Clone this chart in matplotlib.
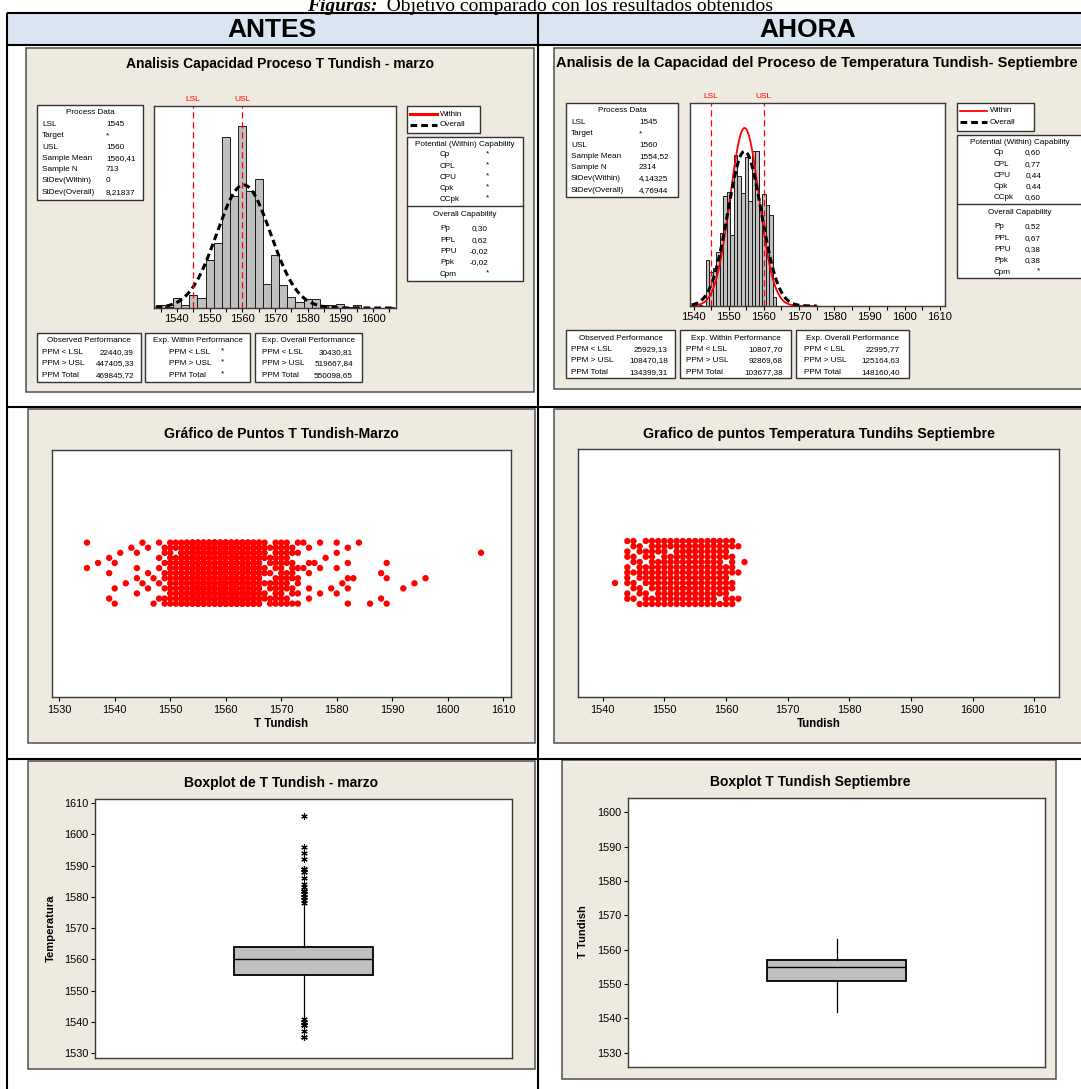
import numpy as np
import matplotlib
matplotlib.use("Agg")
import matplotlib.pyplot as plt
from matplotlib.patches import Rectangle
from matplotlib.ticker import MultipleLocator

plt.rcParams['font.family'] = ['Liberation Sans', 'DejaVu Sans']

# ---------------- data ----------------
LSL, USL = 1545, 1560

# March: temperatures (integer values) and how many heats had each one
marzo_temps = [1535, 1537, 1539, 1540, 1541, 1542, 1543, 1544, 1545, 1546, 1547, 1548,
               1549, 1550, 1551, 1552, 1553, 1554, 1555, 1556, 1557, 1558, 1559, 1560,
               1561, 1562, 1563, 1564, 1565, 1566, 1567, 1568, 1569, 1570, 1571, 1572,
               1573, 1574, 1575, 1576, 1577, 1578, 1579, 1580, 1581, 1582, 1583, 1584,
               1586, 1588, 1589, 1592, 1594, 1596, 1606]
marzo_counts = [2, 1, 3, 3, 1, 1, 1, 4, 2, 3, 2, 5,
                8, 14, 12, 22, 24, 35, 45, 40, 38, 41, 40, 48,
                40, 40, 42, 32, 33, 26, 9, 8, 12, 14, 11, 9,
                7, 2, 5, 1, 3, 1, 1, 4, 1, 5, 1, 1,
                1, 2, 3, 1, 1, 1, 1]

# September: histogram counts per integer temperature
sep_temps = [1542, 1543, 1544, 1545, 1546, 1547, 1548, 1549, 1550, 1551, 1552,
             1553, 1554, 1555, 1556, 1557, 1558, 1559, 1560, 1561, 1562, 1563]
sep_counts = [1, 0, 57, 43, 47, 68, 91, 138, 143, 89, 189,
              163, 141, 187, 132, 194, 194, 122, 140, 127, 114, 11]
# September dot plot: points visible per temperature
sep_dot_counts = [1, 0, 9, 8, 9, 10, 12, 12, 14, 12, 14,
                  14, 14, 14, 14, 14, 14, 12, 12, 10, 3, 1]
# September boxplot statistics
sep_q1, sep_med, sep_q3 = 1551, 1555, 1557
sep_whislo, sep_whishi = 1542, 1563

# summary statistics shown in the capability reports
marzo_n, marzo_mean, marzo_sd_overall = 713, 1560.41, 8.21837
sep_n, sep_mean, sep_sd_within, sep_sd_overall = 2314, 1554.52, 4.14325, 4.76944

marzo_process = [("LSL", "1545"), ("Target", "*"), ("USL", "1560"), ("Sample Mean", "1560,41"),
                 ("Sample N", "713"), ("StDev(Within)", "0"), ("StDev(Overall)", "8,21837")]
sep_process = [("LSL", "1545"), ("Target", "*"), ("USL", "1560"), ("Sample Mean", "1554,52"),
               ("Sample N", "2314"), ("StDev(Within)", "4,14325"), ("StDev(Overall)", "4,76944")]
marzo_within_cap = [("Cp", "*"), ("CPL", "*"), ("CPU", "*"), ("Cpk", "*"), ("CCpk", "*")]
marzo_overall_cap = [("Pp", "0,30"), ("PPL", "0,62"), ("PPU", "-0,02"), ("Ppk", "-0,02"), ("Cpm", "*")]
sep_within_cap = [("Cp", "0,60"), ("CPL", "0,77"), ("CPU", "0,44"), ("Cpk", "0,44"), ("CCpk", "0,60")]
sep_overall_cap = [("Pp", "0,52"), ("PPL", "0,67"), ("PPU", "0,38"), ("Ppk", "0,38"), ("Cpm", "*")]
ppm_labels = ["PPM < LSL", "PPM > USL", "PPM Total"]
marzo_obs = ["22440,39", "447405,33", "469845,72"]
marzo_expw = ["*", "*", "*"]
marzo_expo = ["30430,81", "519667,84", "550098,65"]
sep_obs = ["25929,13", "108470,18", "134399,31"]
sep_expw = ["10807,70", "92869,68", "103677,38"]
sep_expo = ["22995,77", "125164,63", "148160,40"]

# ---------------- figure ----------------
W, H = 1081, 1089
fig = plt.figure(figsize=(W / 100, H / 100), dpi=100)
bg = fig.add_axes([0, 0, 1, 1])
bg.set_xlim(0, W)
bg.set_ylim(H, 0)
bg.axis('off')


def px_axes(x0, y0, x1, y1):
    return fig.add_axes([x0 / W, 1 - y1 / H, (x1 - x0) / W, (y1 - y0) / H])


PANEL = '#EEEAE0'
FS = 5.9
FRAME = '#3a3a3a'

# table
bg.add_patch(Rectangle((7, 13), W - 7, 32, facecolor='#DBE5F1', edgecolor='none'))
for (x0, y0, x1, y1) in [(7, 13, W, 13), (7, 45, W, 45), (7, 407, W, 407), (7, 759, W, 759),
                         (7, 13, 7, H), (538, 13, 538, H)]:
    bg.plot([x0, x1], [y0, y1], color='black', lw=1.5, solid_capstyle='butt')
bg.text(272, 30, "ANTES", fontsize=19, fontweight='bold', ha='center', va='center')
bg.text(808, 30, "AHORA", fontsize=19, fontweight='bold', ha='center', va='center')

# caption (its top is cut by the page edge, as in the source)
t1 = bg.text(0, 11, "Figuras:", fontsize=14, fontweight='bold', fontstyle='italic',
             family=['Liberation Serif'], ha='left', va='baseline')
t2 = bg.text(0, 11, "  Objetivo comparado con los resultados obtenidos", fontsize=14,
             family=['Liberation Serif'], ha='left', va='baseline')
fig.canvas.draw()
w1 = t1.get_window_extent().width
w2 = t2.get_window_extent().width
start = 540 - (w1 + w2) / 2
t1.set_x(start)
t2.set_x(start + w1)

# panels
for (x0, y0, x1, y1) in [(26, 48, 534, 392), (554, 48, 1095, 389), (28, 409, 535, 743),
                         (554, 409, 1095, 743), (28, 761, 535, 1069), (562, 760, 1056, 1079)]:
    bg.add_patch(Rectangle((x0, y0), x1 - x0, y1 - y0, facecolor=PANEL, edgecolor='#505050', lw=1.1))


def box(x0, y0, x1, y1):
    bg.add_patch(Rectangle((x0, y0), x1 - x0, y1 - y0, facecolor='white', edgecolor='#333333', lw=1.0))


def txt(x, y, s, ha='left', fs=FS, **kw):
    bg.text(x, y, s, fontsize=fs, ha=ha, va='center', **kw)


def capability_report(o, process, within_cap, overall_cap, obs, expw, expo, title, title_x, title_ha, title_fs):
    txt(title_x, o['title_y'], title, ha=title_ha, fs=title_fs, fontweight='bold')
    # process data
    x0, y0, x1, y1 = o['pd']
    box(x0, y0, x1, y1)
    txt((x0 + x1) / 2, y0 + 8, "Process Data", ha='center')
    for i, (lab, val) in enumerate(process):
        yy = y0 + 19.5 + i * 11.3
        txt(x0 + 5, yy, lab)
        txt(o['pd_val'], yy, val)
    # legend
    x0, y0, x1, y1 = o['leg']
    box(x0, y0, x1, y1)
    bg.plot([x0 + 3, x0 + 30], [y0 + 8, y0 + 8], color='red', lw=o['within_lw'])
    bg.plot([x0 + 3, x0 + 30], [y0 + 19, y0 + 19], color='black', lw=2.2, ls=(0, (2.2, 1.3)))
    txt(x0 + 33, y0 + 8, "Within")
    txt(x0 + 33, y0 + 19, "Overall")
    # capability
    x0, y0, x1, y1 = o['cap']
    box(x0, y0, x1, y1)
    bg.plot([x0, x1], [o['cap_div'], o['cap_div']], color='#333333', lw=1.0)
    txt(o['cap_head_x'], y0 + 7.5, "Potential (Within) Capability", ha='center')
    for i, (lab, val) in enumerate(within_cap):
        yy = y0 + 18 + i * 11.2
        txt(o['cap_lab'], yy, lab)
        if val == '*':
            txt(o['cap_star'], yy - 1.5, val, ha='center')
        else:
            txt(o['cap_val'], yy, val, ha='right')
    txt(o['cap_head_x'], o['cap_div'] + 9, "Overall Capability", ha='center')
    for i, (lab, val) in enumerate(overall_cap):
        yy = o['cap_div'] + 23 + i * 11.3
        txt(o['cap_lab'], yy, lab)
        if val == '*':
            txt(o['cap_star'], yy - 1.5, val, ha='center')
        else:
            txt(o['cap_val'], yy, val, ha='right')
    # performance boxes
    heads = ["Observed Performance", "Exp. Within Performance", "Exp. Overall Performance"]
    for (x0, x1, lab_x, val_x), head, vals in zip(o['perf'], heads, [obs, expw, expo]):
        y0, y1 = o['perf_y']
        box(x0, y0, x1, y1)
        txt((x0 + x1) / 2, y0 + 8, head, ha='center')
        for i, (lab, val) in enumerate(zip(ppm_labels, vals)):
            yy = y0 + 19.5 + i * 11.3
            txt(lab_x, yy, lab)
            if val == '*':
                txt(val_x, yy - 1.5, val, ha='center')
            else:
                txt(val_x, yy, val, ha='right')


left_layout = dict(title_y=64, pd=(37, 105, 143, 200), pd_val=106, leg=(407, 106, 480, 133),
                   within_lw=2.2, cap=(407, 137, 523, 281), cap_div=206, cap_head_x=465,
                   cap_lab=440, cap_val=488, cap_star=487,
                   perf=[(37, 141, 42, 134), (145, 250, 169, 222), (255, 362, 262, 353)],
                   perf_y=(333, 382))
capability_report(left_layout, marzo_process, marzo_within_cap, marzo_overall_cap,
                  marzo_obs, marzo_expw, marzo_expo,
                  "Analisis Capacidad Proceso T Tundish - marzo", 280, 'center', 10.0)

right_layout = dict(title_y=63, pd=(566, 103, 678, 197), pd_val=639, leg=(957, 103, 1034, 131),
                    within_lw=1.3, cap=(957, 135, 1095, 278), cap_div=204, cap_head_x=1020,
                    cap_lab=994, cap_val=1041, cap_star=1038,
                    perf=[(566, 675, 571, 668), (680, 791, 686, 783), (796, 909, 804, 900)],
                    perf_y=(330, 378))
capability_report(right_layout, sep_process, sep_within_cap, sep_overall_cap,
                  sep_obs, sep_expw, sep_expo,
                  "Analisis de la Capacidad del Proceso de Temperatura Tundish- Septiembre", 556, 'left', 10.5)


def style_frame(ax):
    for s in ax.spines.values():
        s.set_color(FRAME)
        s.set_linewidth(1.0)


# ---------------- histograms ----------------
marzo_data = np.repeat(marzo_temps, marzo_counts)

axh1 = px_axes(154, 106, 396, 308)
edges1 = np.arange(1533.75, 1610, 2.5)
axh1.hist(marzo_data, bins=edges1, color='#C0C0C0', edgecolor='#1a1a1a', lw=0.7)
axh1.set_xlim(1533, 1607)
axh1.set_ylim(0, 142)
xs = np.linspace(1533.5, 1606.5, 400)
pdf = np.exp(-0.5 * ((xs - marzo_mean) / marzo_sd_overall) ** 2) / (marzo_sd_overall * np.sqrt(2 * np.pi))
axh1.plot(xs, marzo_n * 2.5 * pdf, color='black', lw=2.2, ls=(0, (2.2, 1.3)))

axh2 = px_axes(690, 103, 945, 306)
edges2 = np.arange(1541.5, 1564.6, 1.0)
axh2.hist(sep_temps, bins=edges2, weights=sep_counts, color='#C0C0C0', edgecolor='#1a1a1a', lw=0.7)
axh2.set_xlim(1539, 1611.5)
axh2.set_ylim(0, 254)
xs2 = np.linspace(1539.5, 1575, 400)
pdf_w = np.exp(-0.5 * ((xs2 - sep_mean) / sep_sd_within) ** 2) / (sep_sd_within * np.sqrt(2 * np.pi))
pdf_o = np.exp(-0.5 * ((xs2 - sep_mean) / sep_sd_overall) ** 2) / (sep_sd_overall * np.sqrt(2 * np.pi))
axh2.plot(xs2, sep_n * pdf_w, color='red', lw=1.3)
axh2.plot(xs2, sep_n * pdf_o, color='black', lw=2.2, ls=(0, (2.2, 1.3)))

for ax, xmax in [(axh1, 1600), (axh2, 1610)]:
    ax.axvline(LSL, color='red', lw=0.9, ls=(0, (5, 3)))
    ax.axvline(USL, color='red', lw=0.9, ls=(0, (5, 3)))
    tr = ax.get_xaxis_transform()
    ax.text(LSL, 1.03, "LSL", transform=tr, color='red', fontsize=6, ha='center', va='center', clip_on=False)
    ax.text(USL, 1.03, "USL", transform=tr, color='red', fontsize=6, ha='center', va='center', clip_on=False)
    ax.set_xticks(np.arange(1540, xmax + 1, 10))
    ax.xaxis.set_minor_locator(MultipleLocator(5))
    ax.set_yticks([])
    ax.tick_params(axis='x', which='both', direction='out', length=3, width=0.8, pad=1.5, labelsize=8)
    style_frame(ax)

# ---------------- dot plots ----------------
def jitter_points(values, counts, lo, hi, nlev=13):
    xs_, ys_ = [], []
    for v, n in zip(values, counts):
        for k in range(n):
            lev = (k * 5 + v * 7) % nlev
            xs_.append(v)
            ys_.append(lo + (hi - lo) * lev / (nlev - 1))
    return xs_, ys_


axd1 = px_axes(52, 450, 511, 697)
px_, py_ = jitter_points(marzo_temps, marzo_counts, 0.378, 0.625)
axd1.scatter(px_, py_, s=21, color='red', edgecolors='none')
axd1.set_xlim(1528.7, 1611.4)
axd1.set_xticks(np.arange(1530, 1611, 10))

axd2 = px_axes(578, 449, 1059, 697)
px_, py_ = jitter_points(sep_temps, sep_dot_counts, 0.375, 0.629)
axd2.scatter(px_, py_, s=21, color='red', edgecolors='none')
axd2.set_xlim(1536, 1614)
axd2.set_xticks(np.arange(1540, 1611, 10))

for ax in (axd1, axd2):
    ax.set_ylim(0, 1)
    ax.set_yticks([])
    ax.tick_params(axis='x', direction='out', length=3, width=0.8, pad=2.5, labelsize=7.9)
    style_frame(ax)

txt(281, 434, "Gráfico de Puntos T Tundish-Marzo", ha='center', fs=10.1, fontweight='bold')
txt(281, 724, "T Tundish", ha='center', fs=8.3, fontweight='bold')
txt(819, 434, "Grafico de puntos Temperatura Tundihs Septiembre", ha='center', fs=10.3, fontweight='bold')
txt(819, 724, "Tundish", ha='center', fs=8.3, fontweight='bold')

# ---------------- boxplots ----------------
boxprops = dict(facecolor='#C0C0C0', edgecolor='black', linewidth=1.3)
medprops = dict(color='black', linewidth=1.0)
whprops = dict(color='black', linewidth=0.9)
flprops = dict(marker=(6, 2, 0), markersize=4.5, markeredgecolor='black', markeredgewidth=0.8,
               linestyle='none')

axb1 = px_axes(95, 799, 512, 1058)
axb1.boxplot(marzo_data, positions=[0.5], widths=0.333, patch_artist=True, showcaps=False,
             boxprops=boxprops, medianprops=medprops, whiskerprops=whprops, flierprops=flprops)
axb1.set_ylim(1528.4, 1611.3)
axb1.set_yticks(np.arange(1530, 1611, 10))

axb2 = px_axes(628, 798, 1045, 1067)
axb2.bxp([dict(q1=sep_q1, med=sep_med, q3=sep_q3, whislo=sep_whislo, whishi=sep_whishi, fliers=[])],
         positions=[0.5], widths=0.335, patch_artist=True, showcaps=False,
         boxprops=boxprops, medianprops=medprops, whiskerprops=whprops)
axb2.set_ylim(1525.9, 1604.1)
axb2.set_yticks(np.arange(1530, 1601, 10))

for ax in (axb1, axb2):
    ax.set_xlim(0, 1)
    ax.set_xticks([])
    ax.tick_params(axis='y', direction='out', length=3, width=0.8, pad=1.5, labelsize=7.8)
    style_frame(ax)

txt(281, 783, "Boxplot de T Tundish - marzo", ha='center', fs=10.0, fontweight='bold')
txt(810, 782, "Boxplot T Tundish Septiembre", ha='center', fs=10.0, fontweight='bold')
bg.text(51, 928, "Temperatura", fontsize=8.1, fontweight='bold', rotation=90, ha='center', va='center')
bg.text(583, 932, "T Tundish", fontsize=8.1, fontweight='bold', rotation=90, ha='center', va='center')

fig.savefig("out.png", dpi=100)
